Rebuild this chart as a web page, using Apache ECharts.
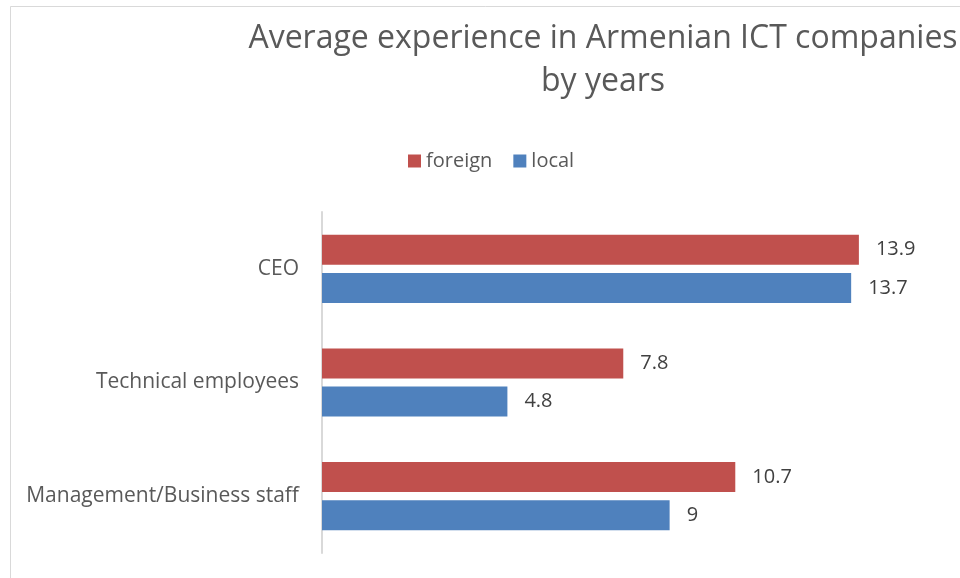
<!DOCTYPE html>
<html>
<head>
<meta charset="utf-8">
<script src="https://cdn.jsdelivr.net/npm/echarts@6/dist/echarts.min.js"></script>
<style>html,body{margin:0;padding:0;background:#fff}#c{width:960px;height:578px}</style>
</head>
<body>
<div id="c"></div>
<script>
const categories = ["CEO", "Technical employees", "Management/Business staff"];
const foreign = [13.9, 7.8, 10.7];
const local = [13.7, 4.8, 9];
const seriesNames = ["foreign", "local"];

const FONT = "'Open Sans', sans-serif";
const chart = echarts.init(document.getElementById('c'));
chart.setOption({
  animation: false,
  backgroundColor: '#ffffff',
  graphic: [{
    type: 'rect', left: 8, top: 4, shape: {x: 0, y: 0, width: 1000, height: 700},
    style: {fill: 'none', stroke: '#d9d9d9', lineWidth: 1}, silent: true
  }],
  title: {
    text: 'Average experience in Armenian ICT companies\nby years',
    left: 598, top: 12, textAlign: 'center',
    textStyle: {fontFamily: FONT, fontSize: 32, fontWeight: 'normal', color: '#595959', lineHeight: 43}
  },
  legend: {
    data: seriesNames, top: 146, left: 403, itemWidth: 13, itemHeight: 13, itemGap: 21,
    icon: 'rect',
    textStyle: {fontFamily: FONT, fontSize: 20, color: '#595959'}
  },
  grid: {left: 322, right: 20, top: 212, bottom: 25},
  xAxis: {type: 'value', min: 0, max: 16, show: false},
  yAxis: {
    type: 'category', data: categories, inverse: true,
    axisLine: {lineStyle: {color: '#d9d9d9', width: 2}},
    axisTick: {show: false},
    axisLabel: {fontFamily: FONT, fontSize: 21, color: '#595959', margin: 23}
  },
  series: [
    {name: 'foreign', type: 'bar', data: foreign, barWidth: 30, barGap: '27%',
     itemStyle: {color: '#C0504D'},
     label: {show: true, position: 'right', distance: 17, fontFamily: FONT, fontSize: 20, color: '#404040'}},
    {name: 'local', type: 'bar', data: local, barWidth: 30, barGap: '27%',
     itemStyle: {color: '#4F81BD'},
     label: {show: true, position: 'right', distance: 17, fontFamily: FONT, fontSize: 20, color: '#404040'}}
  ]
});
</script>
</body>
</html>
